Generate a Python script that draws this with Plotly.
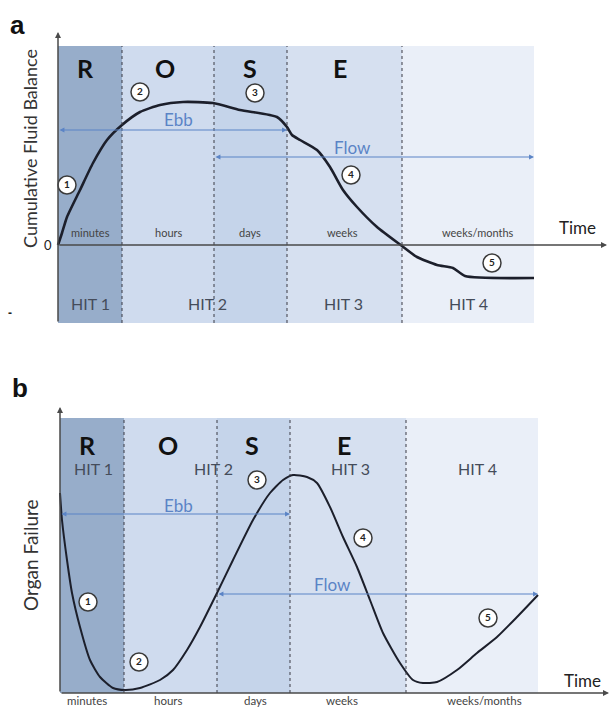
import plotly.graph_objects as go

FONT = "Lato"

# ---------------- Panel a data (time units from origin, fluid balance units) ----------------
phase_bounds_a = [0, 64, 156, 229, 344, 476]
phase_colors = ["#97adca", "#cfdbee", "#c5d4ea", "#d6e0f0", "#eaeff8"]
rose_letters = ["R", "O", "S", "E"]
time_scales = ["minutes", "hours", "days", "weeks", "weeks/months"]
hit_labels = ["HIT 1", "HIT 2", "HIT 3", "HIT 4"]

a_t = [0, 4, 9, 22, 35, 49, 64, 82, 102, 125, 155, 182, 219, 229, 234, 242, 259, 272, 285, 299, 319, 344, 359, 379, 395, 407, 476]
a_v = [0, 12, 28, 55, 82, 105, 120, 133, 140, 143, 142, 135, 128, 118, 110, 105, 95, 78, 55, 38, 18, -1, -12, -20, -23, -31, -33]

a_letter_x = [27, 107, 192, 282]
a_scale_x = [32, 110, 192, 284, 420]
a_hit_x = [32, 149, 285, 410]
a_num_x = [9, 82, 197, 293, 434]
a_num_y = [60, 153, 152, 70, -18]

# ---------------- Panel b data ----------------
phase_bounds_b = [0, 64, 157, 230, 346, 478]
b_t = [0, 2, 7, 12, 20, 30, 40, 53, 65, 80, 100, 113, 127, 140, 157, 173, 193, 210, 223, 233, 247, 257, 270, 283, 297, 310, 323, 340, 353, 363, 377, 397, 417, 437, 457, 478]
b_v = [200, 173, 133, 100, 66, 33, 16, 5, 3, 5, 13, 23, 43, 66, 100, 133, 173, 200, 213, 218, 216, 210, 186, 156, 126, 93, 60, 30, 13, 10, 11, 23, 40, 56, 76, 98]

b_letter_x = [27, 108, 192, 284]
b_scale_x = [27, 108, 195, 282, 424]
b_hit_x = [33, 153, 290, 417]
b_num_x = [28, 79, 197, 303, 428]
b_num_y = [91, 31, 213, 155, 75]

numbers = ["1", "2", "3", "4", "5"]

fig = go.Figure()
shapes = []
annots = []

CURVE = "#1c1f2b"
BLUE = "#5b84c6"
AX = "#4a4a4a"


def panel(xr, yr, bounds, top, bottom, t, v, letters_x, letter_y, scale_x, scale_y, scale_size,
          hit_x, hit_y, num_x, num_y, ebb_y, ebb_text_xy, flow_y, flow_text_xy, time_xy,
          yaxis_top, xaxis_end, ytitle, ytitle_xy, ytitle_size, panel_label, label_xy, lw):
    for i in range(len(bounds) - 1):
        shapes.append(dict(type="rect", xref=xr, yref=yr, x0=bounds[i], x1=bounds[i + 1],
                           y0=bottom, y1=top, fillcolor=phase_colors[i], line_width=0, layer="below"))
    for b in bounds[1:-1]:
        shapes.append(dict(type="line", xref=xr, yref=yr, x0=b, x1=b, y0=bottom, y1=top,
                           line=dict(color="#3a3a44", width=1, dash="dot")))
    fig.add_trace(go.Scatter(x=t, y=v, mode="lines", xaxis=xr, yaxis=yr,
                             line=dict(color=CURVE, width=lw, shape="spline", smoothing=0.6),
                             hoverinfo="skip", showlegend=False))
    fig.add_trace(go.Scatter(x=num_x, y=num_y, mode="markers+text", text=["<b>%s</b>" % n for n in numbers],
                             xaxis=xr, yaxis=yr,
                             marker=dict(size=18, color="white", line=dict(color="#3a3a3a", width=1.5)),
                             textfont=dict(family=FONT, size=10, color="#222"), textposition="middle center",
                             hoverinfo="skip", showlegend=False))
    annots.append(dict(xref=xr, yref=yr, axref=xr, ayref=yr, x=0, y=yaxis_top, ax=0, ay=bottom,
                       showarrow=True, arrowhead=2, arrowsize=0.8, arrowwidth=1.5, arrowcolor=AX, text=""))
    annots.append(dict(xref=xr, yref=yr, axref=xr, ayref=yr, x=xaxis_end, y=0, ax=0, ay=0,
                       showarrow=True, arrowhead=2, arrowsize=0.8, arrowwidth=1.5, arrowcolor=AX, text=""))
    annots.append(dict(xref=xr, yref=yr, axref=xr, ayref=yr, x=bounds[3], y=ebb_y, ax=bounds[0], ay=ebb_y,
                       showarrow=True, arrowhead=2, arrowside="end+start", arrowsize=0.9, arrowwidth=1.1,
                       arrowcolor=BLUE, text=""))
    annots.append(dict(xref=xr, yref=yr, axref=xr, ayref=yr, x=bounds[5], y=flow_y, ax=bounds[2], ay=flow_y,
                       showarrow=True, arrowhead=2, arrowside="end+start", arrowsize=0.9, arrowwidth=1.1,
                       arrowcolor=BLUE, text=""))
    annots.append(dict(xref=xr, yref=yr, x=ebb_text_xy[0], y=ebb_text_xy[1], text="Ebb", showarrow=False,
                       font=dict(family=FONT, size=17, color=BLUE)))
    annots.append(dict(xref=xr, yref=yr, x=flow_text_xy[0], y=flow_text_xy[1], text="Flow", showarrow=False,
                       font=dict(family=FONT, size=17, color=BLUE)))
    for L, x in zip(rose_letters, letters_x):
        annots.append(dict(xref=xr, yref=yr, x=x, y=letter_y, text="<b>%s</b>" % L, showarrow=False,
                           font=dict(family=FONT, size=25, color="#111")))
    for s, x in zip(time_scales, scale_x):
        annots.append(dict(xref=xr, yref=yr, x=x, y=scale_y, text=s, showarrow=False,
                           font=dict(family=FONT, size=scale_size, color="#444")))
    for h, x in zip(hit_labels, hit_x):
        annots.append(dict(xref=xr, yref=yr, x=x, y=hit_y, text=h, showarrow=False,
                           font=dict(family=FONT, size=16, color="#454c5a")))
    annots.append(dict(xref=xr, yref=yr, x=time_xy[0], y=time_xy[1], text="Time", showarrow=False,
                       font=dict(family=FONT, size=17, color="#222")))
    annots.append(dict(xref=xr, yref=yr, x=ytitle_xy[0], y=ytitle_xy[1], text=ytitle, showarrow=False,
                       textangle=-90, font=dict(family=FONT, size=ytitle_size, color="#333")))
    annots.append(dict(xref=xr, yref=yr, x=label_xy[0], y=label_xy[1], text="<b>%s</b>" % panel_label,
                       showarrow=False, font=dict(family="Liberation Sans", size=26, color="#111")))


panel("x", "y", phase_bounds_a, 199, -78, a_t, a_v, a_letter_x, 177, a_scale_x, 13, 11,
      a_hit_x, -58, a_num_x, a_num_y, 115, (120, 126), 88, (294, 98), (519, 18),
      213, 549, "Cumulative Fluid Balance", (-28, 96), 18, "a", (-41, 220), 2.6)

panel("x2", "y2", phase_bounds_b, 275, 0, b_t, b_v, b_letter_x, 248, b_scale_x, -7.5, 11.5,
      b_hit_x, 225, b_num_x, b_num_y, 179, (118, 188), 99, (272, 109), (522, 13),
      286, 549, "Organ Failure", (-30, 138), 19, "b", (-40, 305), 2.0)

annots.append(dict(xref="x", yref="y", x=-4, y=0, text="0", showarrow=False, xanchor="right",
                   font=dict(family=FONT, size=13, color="#222")))
annots.append(dict(xref="x", yref="y", x=-48, y=-68, text="<b>-</b>", showarrow=False,
                   font=dict(family="Liberation Sans", size=12, color="#222")))

hidden = dict(showgrid=False, zeroline=False, showticklabels=False, showline=False, ticks="")
fig.update_layout(
    width=610, height=709, margin=dict(l=0, r=0, t=0, b=0),
    paper_bgcolor="white", plot_bgcolor="rgba(0,0,0,0)",
    xaxis=dict(range=[-58, 552], domain=[0, 1], anchor="y", fixedrange=True, **hidden),
    yaxis=dict(range=[-100, 245], domain=[1 - 345 / 709, 1], anchor="x", fixedrange=True, **hidden),
    xaxis2=dict(range=[-60, 550], domain=[0, 1], anchor="y2", fixedrange=True, **hidden),
    yaxis2=dict(range=[-16, 343], domain=[0, 359 / 709], anchor="x2", fixedrange=True, **hidden),
    shapes=shapes, annotations=annots, showlegend=False,
)

fig.write_html("out.html", config={"displayModeBar": False},
               post_script="document.body.style.margin='0';document.body.style.overflow='hidden';")
